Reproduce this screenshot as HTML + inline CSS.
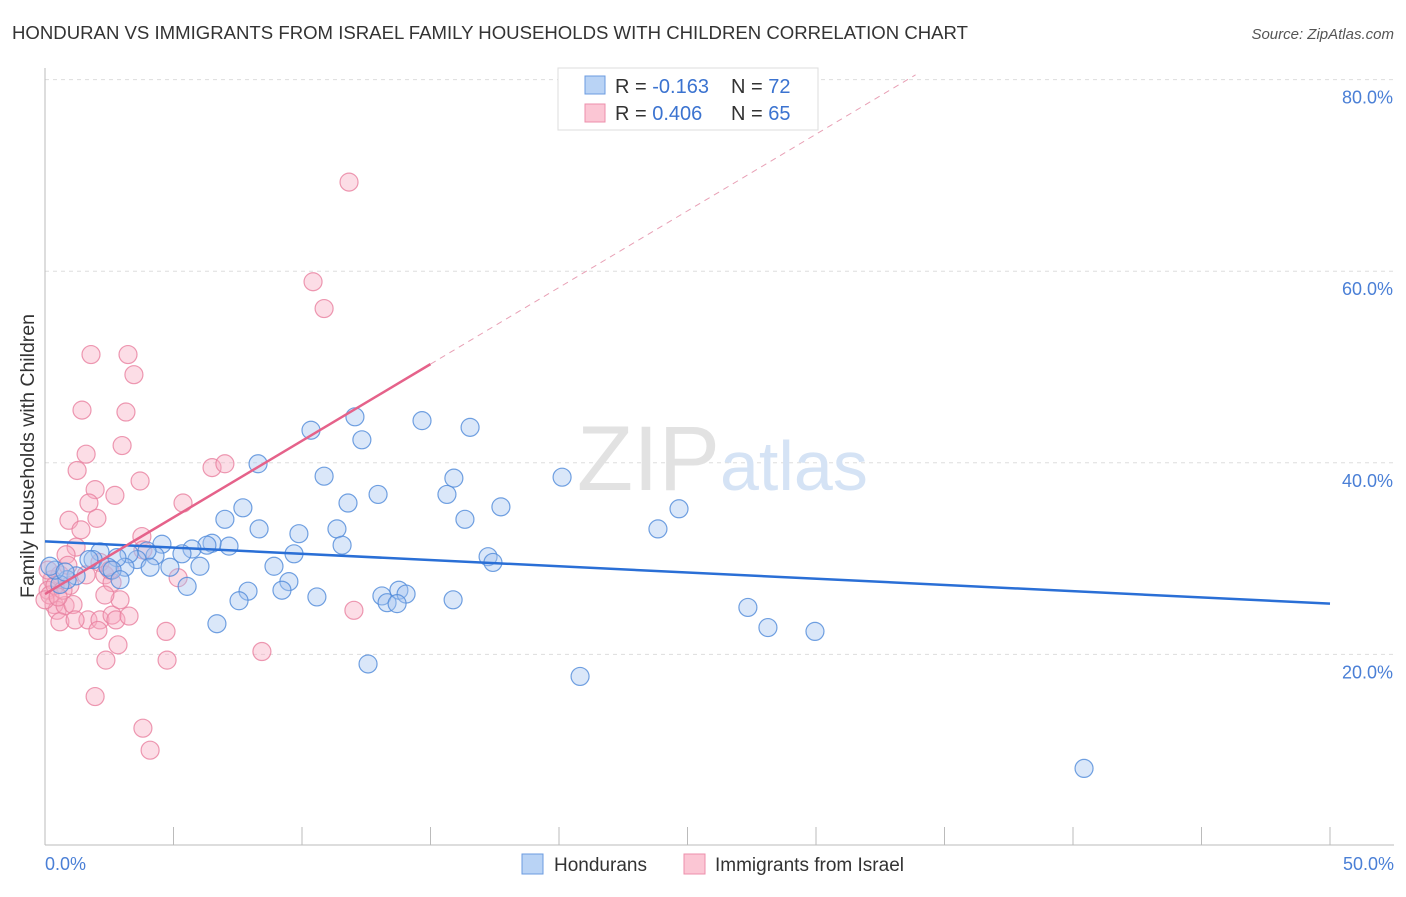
<!DOCTYPE html>
<html><head><meta charset="utf-8"><style>
body{margin:0;background:#fff;font-family:"Liberation Sans",sans-serif;}
svg text{font-family:"Liberation Sans",sans-serif;}
</style></head><body>
<svg width="1406" height="892" xmlns="http://www.w3.org/2000/svg">
<text x="12" y="39" font-size="18" fill="#333" textLength="956" lengthAdjust="spacingAndGlyphs">HONDURAN VS IMMIGRANTS FROM ISRAEL FAMILY HOUSEHOLDS WITH CHILDREN CORRELATION CHART</text>
<text x="1394" y="39" font-size="15" fill="#555" font-style="italic" text-anchor="end">Source: ZipAtlas.com</text>
<g id="grid"></g>
<text x="720" y="490" font-size="92" fill="#e2e2e2" font-family="Liberation Serif" text-anchor="end">ZIP</text>
<text x="720" y="490" font-size="70" fill="#d5e3f5">atlas</text>
<line x1="45" y1="68" x2="45" y2="845" stroke="#bbb"/>
<line x1="45" y1="845" x2="1394" y2="845" stroke="#bbb"/>
<g id="ticks"></g>
<text transform="translate(34,456) rotate(-90)" font-size="19.5" fill="#333" text-anchor="middle">Family Households with Children</text>
<text x="45" y="870" font-size="18" fill="#4a7fd6">0.0%</text>
<text x="1394" y="870" font-size="18" fill="#4a7fd6" text-anchor="end">50.0%</text>
<g id="pts"></g>
<g id="lines"></g>
<g>
<rect x="558" y="68" width="260" height="62" fill="#fff" stroke="#ddd"/>
<rect x="585" y="76" width="20" height="18" fill="#b9d3f5" stroke="#6b9be0"/>
<rect x="585" y="104" width="20" height="18" fill="#fbc6d4" stroke="#ec8fab"/>
<text x="615" y="93" font-size="20" fill="#333">R = <tspan fill="#3b73d0">-0.163</tspan></text>
<text x="731" y="93" font-size="20" fill="#333">N = <tspan fill="#3b73d0">72</tspan></text>
<text x="615" y="120" font-size="20" fill="#333">R = <tspan fill="#3b73d0">0.406</tspan></text>
<text x="731" y="120" font-size="20" fill="#333">N = <tspan fill="#3b73d0">65</tspan></text>
</g>
<g>
<rect x="522" y="854" width="21" height="20" fill="#b9d3f5" stroke="#6b9be0"/>
<text x="554" y="871" font-size="19" fill="#333">Hondurans</text>
<rect x="684" y="854" width="21" height="20" fill="#fbc6d4" stroke="#ec8fab"/>
<text x="715" y="871" font-size="19" fill="#333">Immigrants from Israel</text>
</g>
</svg>
<script>
const yTicks=[20,40,60,80];
const yTickLabels=["20.0%","40.0%","60.0%","80.0%"];
const xTicks=[0,5,10,15,20,25,30,35,40,45,50];
const blueX=[8.29,10.35,12.06,12.33,14.67,16.54,10.86,11.79,12.96,15.64,15.91,16.34,17.74,20.12,23.85,24.67,7.70,7.00,8.33,9.88,11.36,11.56,9.69,7.16,6.50,6.30,5.72,5.33,4.55,4.28,3.97,3.58,3.27,3.11,2.80,2.14,1.87,1.71,2.45,2.61,4.09,4.86,6.03,8.91,9.49,9.22,7.90,7.55,5.53,2.92,1.21,0.86,0.58,0.39,0.19,0.78,10.58,13.11,13.31,13.77,14.05,13.70,15.88,17.24,17.43,27.35,28.13,29.96,6.69,12.57,20.82,40.43];
const blueY=[39.9,43.4,44.8,42.4,44.4,43.7,38.6,35.8,36.7,36.7,38.4,34.1,35.4,38.5,33.1,35.2,35.3,34.1,33.1,32.6,33.1,31.4,30.5,31.3,31.6,31.4,31.0,30.5,31.5,30.3,30.8,29.9,30.5,29.1,30.1,30.7,29.9,29.9,29.1,28.8,29.1,29.1,29.2,29.2,27.6,26.7,26.6,25.6,27.1,27.8,28.2,27.8,27.3,28.8,29.2,28.6,26.0,26.1,25.4,26.7,26.3,25.3,25.7,30.2,29.6,24.9,22.8,22.4,23.2,19.0,17.7,8.1];
const pinkX=[11.83,10.43,10.86,1.79,3.23,3.46,1.44,3.15,3.00,1.60,1.25,3.70,1.95,1.71,2.72,5.37,6.50,7.00,0.93,2.02,1.40,3.77,1.21,0.82,3.81,2.14,2.33,2.61,0.58,0.27,0.12,0.35,0.47,0.78,1.09,1.67,2.14,2.06,2.61,2.76,3.27,2.84,2.37,1.95,4.71,4.75,3.81,4.09,8.44,12.02,0.19,0.0,0.58,1.17,2.53,0.97,1.60,5.18,2.92,0.39,0.70,0.12,0.89,0.51,2.33];
const pinkY=[69.3,58.9,56.1,51.3,51.3,49.2,45.5,45.3,41.8,40.9,39.2,38.1,37.2,35.8,36.6,35.8,39.5,39.9,34.0,34.2,33.0,32.3,31.2,30.4,30.9,29.6,28.3,27.5,28.3,27.8,26.7,25.2,24.6,25.1,25.2,23.6,23.6,22.5,24.1,23.6,24.0,21.0,19.4,15.6,22.4,19.4,12.3,10.0,20.3,24.6,26.2,25.7,23.4,23.6,28.8,27.2,28.3,28.0,25.7,27.2,26.7,28.8,29.3,26.0,26.2];
const blueTrend=[31.8,25.3];
const pinkTrend=[26.3,1.6];
const X=v=>45+v*25.7, Y=v=>846-v*9.58;
const NS="http://www.w3.org/2000/svg";
function mk(t,a,p){const e=document.createElementNS(NS,t);for(const k in a)e.setAttribute(k,a[k]);p.appendChild(e);return e;}
const grid=document.getElementById('grid');
yTicks.forEach((t,i)=>{
 const l=mk('line',{x1:45,x2:1394,y1:Y(t),y2:Y(t),stroke:'#ddd','stroke-dasharray':'4,4'},grid);
 
 
 const tx=mk('text',{x:1393,y:Y(t)+24,'font-size':18,fill:'#4a7fd6','text-anchor':'end'},grid);
 tx.textContent=yTickLabels[i];
 
 
});
const ticks=document.getElementById('ticks');
xTicks.forEach(t=>{
 const l=mk('line',{x1:X(t),x2:X(t),y1:827,y2:845,stroke:'#bbb'},ticks);
 
 
});
const pts=document.getElementById('pts');
function draw(xs,ys,fill,stroke,name){
 xs.forEach((x,i)=>{
  const c=mk('circle',{cx:X(x),cy:Y(ys[i]),r:9,fill:fill,'fill-opacity':0.4,stroke:stroke,'stroke-width':1.2,'stroke-opacity':0.8},pts);
  
  
 });
}
draw(pinkX,pinkY,'#f7a9c0','#e8809f','point-israel');
draw(blueX,blueY,'#a3c4ef','#4f8ad9','point-honduran');
const lines=document.getElementById('lines');
let b=mk('line',{x1:X(0),y1:Y(blueTrend[0]),x2:X(50),y2:Y(blueTrend[1]),stroke:'#2a6fd6','stroke-width':2.5},lines);


let p=mk('line',{x1:X(0),y1:Y(pinkTrend[0]),x2:X(15),y2:Y(pinkTrend[0]+pinkTrend[1]*15),stroke:'#e5628a','stroke-width':2.5},lines);


const xe=(80.5-pinkTrend[0])/pinkTrend[1];
let pd=mk('line',{x1:X(15),y1:Y(pinkTrend[0]+pinkTrend[1]*15),x2:X(xe),y2:Y(80.5),stroke:'#e8a0b5','stroke-width':1,'stroke-dasharray':'6,5'},lines);


</script>
</body></html>
